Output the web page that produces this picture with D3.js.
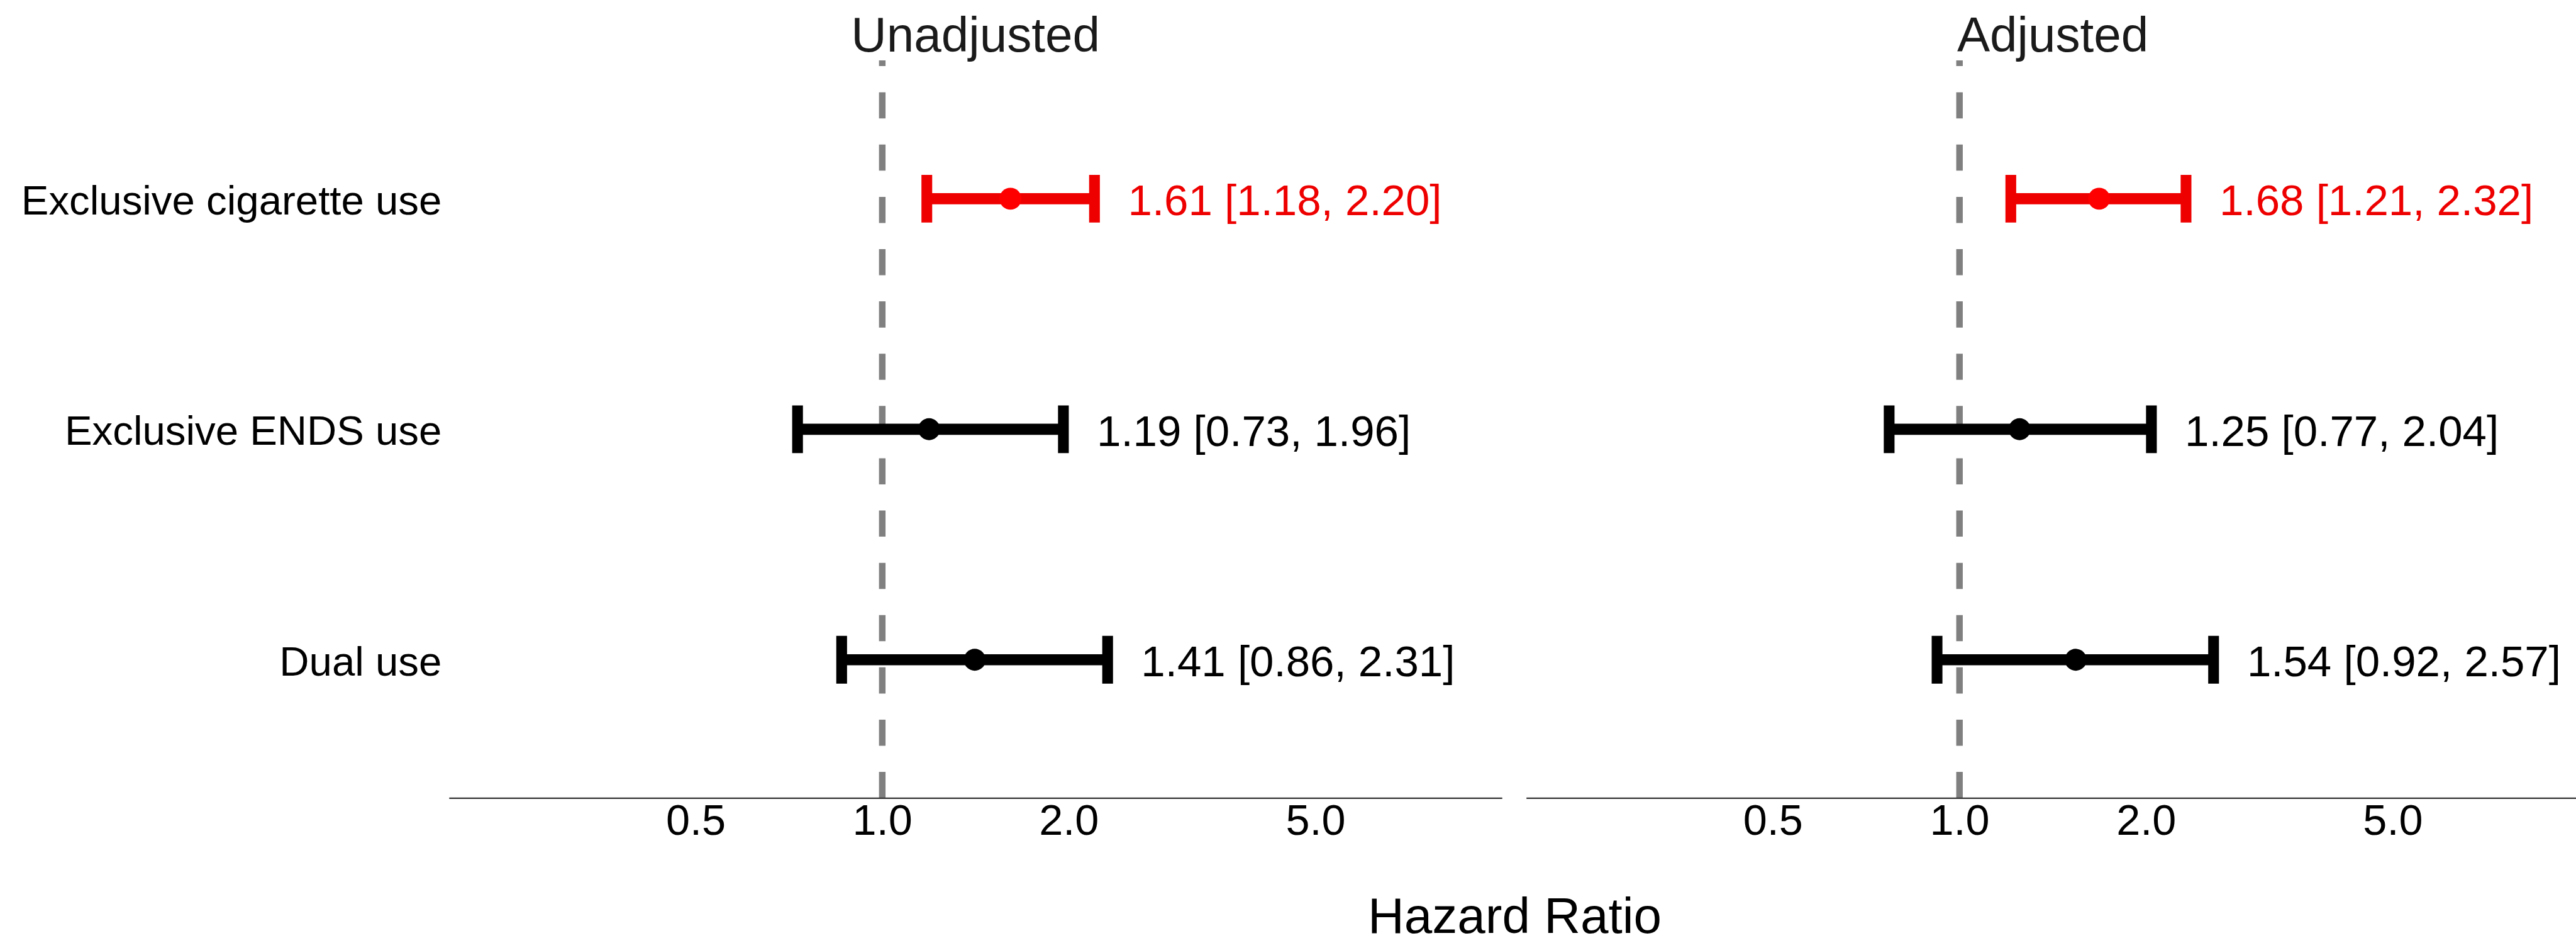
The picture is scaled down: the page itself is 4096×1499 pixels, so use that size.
<!DOCTYPE html>
<head>
  <meta charset="utf-8">
  <title>Hazard Ratio Forest Plot</title>
  <script src="https://d3js.org/d3.v7.min.js"></script>
  <style>
    body { margin: 0; background: #fff; }
    #forest-svg { display: block; }
    text { font-family: "Liberation Sans", Arial, sans-serif; }
  </style>
</head>

<body>
  <svg id="forest-svg" width="4096" height="1499" viewBox="0 0 6702 2453"></svg>
  <script>
    // chart data
    var categories = ["Exclusive cigarette use", "Exclusive ENDS use", "Dual use"];
    var panels = ["Unadjusted", "Adjusted"];
    var unadjEst = [1.61, 1.19, 1.41];
    var unadjLo  = [1.18, 0.73, 0.86];
    var unadjHi  = [2.20, 1.96, 2.31];
    var adjEst = [1.68, 1.25, 1.54];
    var adjLo  = [1.21, 0.77, 0.92];
    var adjHi  = [2.32, 2.04, 2.57];
    var highlighted = ["Exclusive cigarette use"];
    var tickValues = [0.5, 1, 2, 5];
    var tickLabels = ["0.5", "1.0", "2.0", "5.0"];
    var xLimits = [0.2, 10];
    var refValue = 1;
    var xTitle = "Hazard Ratio";

    // layout is in reference pixels, viewBox scales it down to the window
    var panelLeft = [1168, 3971];
    var panelWidth = 2740;
    var panelTop = 157;
    var panelBottom = 2076;

    var svg = d3.select("#forest-svg");

    var y = d3.scalePoint()
      .domain(categories)
      .range([panelTop, panelBottom])
      .padding(0.6);

    var series = [
      {est: unadjEst, lo: unadjLo, hi: unadjHi},
      {est: adjEst, lo: adjLo, hi: adjHi}
    ];

    function colorOf(cat, bright) {
      if (highlighted.indexOf(cat) >= 0) return bright ? "#ff0000" : "#ee0000";
      return "#000000";
    }

    // category labels on the left
    svg.append("g")
      .selectAll("text")
      .data(categories)
      .enter()
      .append("text")
      .attr("x", 1149)
      .attr("y", function(d) { return y(d) + 41; })
      .attr("text-anchor", "end")
      .attr("font-size", 107)
      .attr("fill", "#000")
      .text(function(d) { return d; });

    panels.forEach(function(name, p) {
      var x = d3.scaleLog()
        .domain(xLimits)
        .range([panelLeft[p], panelLeft[p] + panelWidth]);

      var rows = categories.map(function(c, i) {
        return {cat: c, est: series[p].est[i], lo: series[p].lo[i], hi: series[p].hi[i]};
      });

      var g = svg.append("g").attr("class", "panel");

      // panel title
      g.append("text")
        .attr("x", panelLeft[p] + panelWidth / 2)
        .attr("y", 135)
        .attr("text-anchor", "middle")
        .attr("font-size", 128)
        .attr("fill", "#1a1a1a")
        .text(name);

      // reference line at 1, dashes counted from the bottom
      g.append("line")
        .attr("x1", x(refValue)).attr("x2", x(refValue))
        .attr("y1", panelBottom).attr("y2", panelTop)
        .attr("stroke", "#808080")
        .attr("stroke-width", 17)
        .attr("stroke-dasharray", "68 68");

      // x axis
      var axis = d3.axisBottom(x)
        .tickValues(tickValues)
        .tickFormat(function(d, i) { return tickLabels[i]; })
        .tickSize(0)
        .tickSizeOuter(0)
        .tickPadding(16);

      var ax = g.append("g")
        .attr("transform", "translate(0," + panelBottom + ")")
        .call(axis);
      ax.select(".domain").attr("stroke", "#333").attr("stroke-width", 3.5);
      ax.selectAll(".tick text")
        .attr("font-size", 112)
        .attr("font-family", "'Liberation Sans', Arial, sans-serif")
        .attr("fill", "#000");

      // error bars
      var bars = g.selectAll(".row")
        .data(rows)
        .enter()
        .append("g")
        .attr("class", "row");

      bars.append("line")
        .attr("x1", function(d) { return x(d.lo); })
        .attr("x2", function(d) { return x(d.hi); })
        .attr("y1", function(d) { return y(d.cat); })
        .attr("y2", function(d) { return y(d.cat); })
        .attr("stroke", function(d) { return colorOf(d.cat); })
        .attr("stroke-width", 29);

      ["lo", "hi"].forEach(function(k) {
        bars.append("line")
          .attr("x1", function(d) { return x(d[k]); })
          .attr("x2", function(d) { return x(d[k]); })
          .attr("y1", function(d) { return y(d.cat) - 62; })
          .attr("y2", function(d) { return y(d.cat) + 62; })
          .attr("stroke", function(d) { return colorOf(d.cat); })
          .attr("stroke-width", 28);
      });

      bars.append("circle")
        .attr("cx", function(d) { return x(d.est); })
        .attr("cy", function(d) { return y(d.cat); })
        .attr("r", 28.5)
        .attr("fill", function(d) { return colorOf(d.cat, true); });

      bars.append("text")
        .attr("x", function(d) { return x(d.hi) + 87; })
        .attr("y", function(d) { return y(d.cat) + 43; })
        .attr("font-size", 113)
        .attr("fill", function(d) { return colorOf(d.cat); })
        .text(function(d) {
          return d.est.toFixed(2) + " [" + d.lo.toFixed(2) + ", " + d.hi.toFixed(2) + "]";
        });
    });

    // shared x title
    svg.append("text")
      .attr("x", 3941)
      .attr("y", 2426)
      .attr("text-anchor", "middle")
      .attr("font-size", 131)
      .attr("fill", "#000")
      .text(xTitle);
  </script>
</body>
</html>
